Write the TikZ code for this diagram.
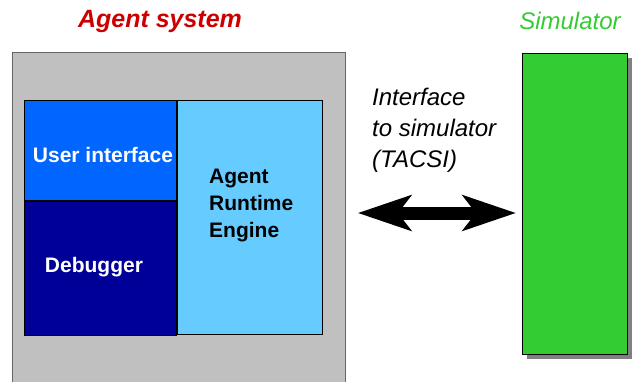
\documentclass[tikz,border=0pt]{standalone}
\usepackage{fontspec}
\setmainfont{Liberation Sans}
\usepackage{tikz}
\usetikzlibrary{arrows.meta, positioning}

\definecolor{agentgray}{RGB}{192,192,192}
\definecolor{uiblue}{RGB}{0,102,255}
\definecolor{dbgblue}{RGB}{0,0,153}
\definecolor{areblue}{RGB}{102,204,255}
\definecolor{simgreen}{RGB}{51,204,51}
\definecolor{titlered}{RGB}{204,0,0}

\tikzset{
	box/.style={draw, rectangle, inner sep=0pt, line width=0.8pt},
	boldlabel/.style={font=\fontsize{21}{27}\selectfont\bfseries, inner sep=0pt},
	title/.style={font=\fontsize{25}{30}\selectfont\bfseries\itshape, inner sep=0pt}
}

\begin{document}
\begin{tikzpicture}[x=1pt, y=-1pt]
		\clip (0,0) rectangle (634,381);
		\node[box, fill=agentgray, draw=black!60, minimum width=333pt, minimum height=345pt, anchor=north west] (agent) at (12,52) {};
		\node[box, fill=uiblue, minimum width=152pt, minimum height=100pt, anchor=north west] (ui) at (24,100) {};
		\node[box, fill=dbgblue, minimum width=152pt, minimum height=134pt, below=0pt of ui] (dbg) {};
		\node[box, fill=areblue, minimum width=145pt, minimum height=234pt, anchor=north west] (are) at (ui.north east) {};
		\node[boldlabel, text=white] (uitext) at (103,155) {User interface};
		\node[boldlabel, text=white] (dbgtext) at (94,267) {Debugger};
		\node[boldlabel, align=left, anchor=west] (aretext) at (209,205) {Agent\\Runtime\\Engine};
		\fill[black!50] (527,58) rectangle (632,359);
		\node[box, fill=simgreen, minimum width=105pt, minimum height=301pt, anchor=north west] (sim) at (522,53) {};
		\node[title, text=titlered] (agenttitle) at (160,21) {Agent system};
		\node[font=\fontsize{24}{30}\selectfont\itshape, text=simgreen, inner sep=0pt] (simtitle) at (570,21) {Simulator};
		\node[font=\fontsize{24}{31}\selectfont\itshape, align=left, anchor=west, inner sep=0pt] (tacsi) at (372,130) {Interface\\to simulator\\(TACSI)};
		\coordinate (ifl) at (agent.east |- 0,213);
		\coordinate (ifr) at (sim.west |- 0,213);
		\draw[line width=13pt, {Stealth[length=53pt, width=35pt, inset=13pt]}-{Stealth[length=53pt, width=35pt, inset=13pt]}, shorten <=12pt, shorten >=6pt] (ifl) -- (ifr);
	\end{tikzpicture}
\end{document}
